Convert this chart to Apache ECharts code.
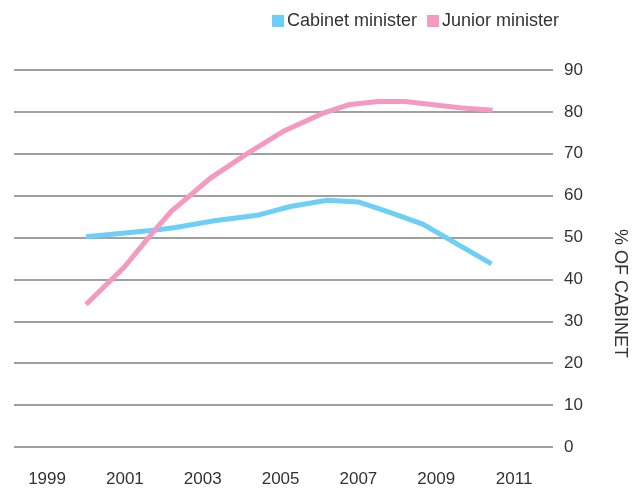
<!DOCTYPE html>
<html>
<head>
<meta charset="utf-8">
<title>Share of cabinet</title>
<script src="https://cdn.jsdelivr.net/npm/echarts@6/dist/echarts.min.js"></script>
<style>
  html, body { margin: 0; padding: 0; background: #ffffff; }
  #chart { width: 644px; height: 488px; }
</style>
</head>
<body>
<div id="chart"></div>
<script>
// Women's share of posts, by date (decimal year)
const cabinetYears  = [2000.0, 2001.8, 2002.3, 2003.3, 2004.4, 2005.25, 2006.2, 2007.0, 2007.75, 2008.65, 2010.42];
const cabinetShare  = [50.2,   51.8,   52.4,   54.0,   55.3,   57.4,    58.9,   58.5,   56.2,    53.2,    43.7];
const juniorYears   = [2000.0, 2000.98, 2001.75, 2002.2, 2003.2, 2004.15, 2005.1, 2006.1, 2006.75, 2007.5, 2008.2, 2009.6, 2010.45];
const juniorShare   = [34.0,   42.9,    51.6,    56.3,   64.2,   70.1,    75.5,   79.7,   81.7,    82.5,   82.5,   81.0,   80.4];
const yearTicks     = [1999, 2001, 2003, 2005, 2007, 2009, 2011];
const shareTicks    = [0, 10, 20, 30, 40, 50, 60, 70, 80, 90];
const seriesNames   = ['Cabinet minister', 'Junior minister'];

const FONT = '"Liberation Sans", Arial, Helvetica, sans-serif';
const TEXT = '#333333';

const pairs = (xs, ys) => xs.map((x, i) => [x, ys[i]]);

const chart = echarts.init(document.getElementById('chart'), null, { renderer: 'canvas' });

chart.setOption({
  animation: false,
  backgroundColor: '#ffffff',
  textStyle: { fontFamily: FONT, color: TEXT },
  legend: {
    left: 272,
    top: 12,
    padding: 0,
    itemWidth: 12,
    itemHeight: 12,
    itemGap: 10,
    icon: 'rect',
    textStyle: { fontFamily: FONT, fontSize: 18, color: TEXT, padding: [0, 0, 0, -2] },
    data: seriesNames
  },
  grid: { left: 14, right: 91, top: 70, bottom: 39, containLabel: false },
  xAxis: {
    type: 'value',
    min: 1998.15,
    max: 2012,
    axisLine: { show: false },
    axisTick: { show: false },
    splitLine: { show: false },
    axisLabel: {
      customValues: yearTicks,
      formatter: v => String(v),
      fontFamily: FONT,
      fontSize: 17,
      color: TEXT,
      margin: 24
    }
  },
  yAxis: {
    type: 'value',
    position: 'right',
    min: shareTicks[0],
    max: shareTicks[shareTicks.length - 1],
    interval: 10,
    axisLine: { show: false },
    axisTick: { show: false },
    splitLine: { show: true, lineStyle: { color: '#a0a0a0', width: 2 } },
    axisLabel: { fontFamily: FONT, fontSize: 17, color: TEXT, margin: 11 },
    name: '% OF CABINET',
    nameLocation: 'middle',
    nameRotate: -90,
    nameGap: 58,
    nameTextStyle: { fontFamily: FONT, fontSize: 18, color: TEXT, padding: [0, 0, 0, 70] }
  },
  series: [
    {
      name: seriesNames[0],
      type: 'line',
      data: pairs(cabinetYears, cabinetShare),
      showSymbol: false,
      symbol: 'none',
      itemStyle: { color: '#6dcff6' },
      lineStyle: { color: '#6dcff6', width: 5, join: 'miter', cap: 'butt' }
    },
    {
      name: seriesNames[1],
      type: 'line',
      data: pairs(juniorYears, juniorShare),
      showSymbol: false,
      symbol: 'none',
      itemStyle: { color: '#f49ac1' },
      lineStyle: { color: '#f49ac1', width: 5, join: 'miter', cap: 'butt' }
    }
  ]
});
</script>
</body>
</html>
